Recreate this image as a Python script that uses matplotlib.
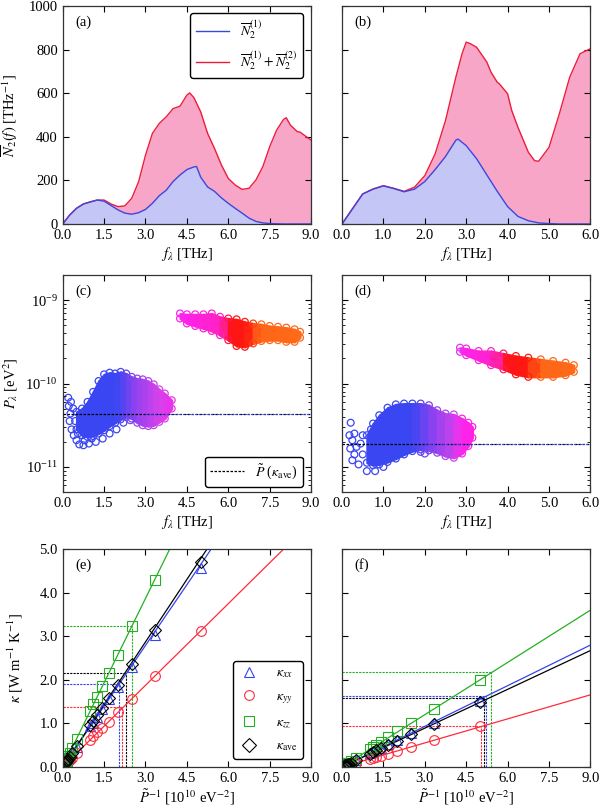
import numpy as np
import matplotlib
matplotlib.use("Agg")
import matplotlib.pyplot as plt
from matplotlib.colors import LinearSegmentedColormap
from matplotlib.lines import Line2D
from matplotlib.ticker import LogLocator, NullFormatter

plt.rcParams["font.family"] = ["Liberation Serif", "DejaVu Serif"]
plt.rcParams["mathtext.fontset"] = "stix"
plt.rcParams["font.size"] = 10.5

# ---- (a) DOS-like curves, f in THz ----
fa_red = [0.0, 0.25, 0.5, 0.75, 1.0, 1.25, 1.5, 1.75, 2.0, 2.25, 2.5, 2.75, 3.0, 3.25, 3.5, 3.75,
          4.0, 4.25, 4.5, 4.6, 4.75, 5.0, 5.25, 5.5, 5.75, 6.0, 6.25, 6.5, 6.75, 7.0, 7.25, 7.5,
          7.75, 8.0, 8.1, 8.25, 8.5, 8.6, 8.75, 9.0]
na_red = [0, 41, 72, 92, 102, 110, 110, 92, 80, 83, 118, 194, 316, 416, 462, 492,
          530, 541, 592, 602, 581, 515, 416, 347, 271, 209, 179, 159, 164, 202, 263, 355,
          431, 480, 488, 454, 424, 422, 408, 385]
fa_blue = [0.0, 0.25, 0.5, 0.75, 1.0, 1.25, 1.5, 1.75, 2.0, 2.25, 2.5, 2.75, 3.0, 3.25, 3.5, 3.75,
           4.0, 4.25, 4.5, 4.75, 4.85, 5.0, 5.25, 5.5, 5.75, 6.0, 6.25, 6.5, 6.75, 7.0, 7.25, 7.5,
           8.0, 9.0]
na_blue = [0, 41, 72, 92, 101, 110, 105, 85, 65, 50, 45, 52, 67, 95, 130, 155,
           195, 225, 250, 262, 264, 215, 170, 150, 120, 95, 72, 50, 27, 12, 5, 2,
           0, 0]

# ---- (b) ----
fb_red = [0.0, 0.25, 0.5, 0.75, 1.0, 1.25, 1.5, 1.75, 2.0, 2.25, 2.5, 2.75, 2.9, 3.0, 3.1, 3.25,
          3.5, 3.6, 3.75, 3.8, 4.0, 4.1, 4.25, 4.5, 4.65, 4.75, 5.0, 5.25, 5.5, 5.75, 6.0]
nb_red = [0, 69, 138, 161, 176, 164, 150, 169, 222, 322, 475, 674, 782, 835, 828, 812,
          743, 697, 651, 644, 598, 521, 444, 330, 291, 288, 352, 506, 674, 782, 805]
fb_blue = [0.0, 0.25, 0.5, 0.75, 1.0, 1.25, 1.5, 1.75, 2.0, 2.25, 2.5, 2.75, 2.8, 3.0, 3.25,
           3.5, 3.75, 4.0, 4.25, 4.5, 4.75, 5.0, 5.25, 6.0]
nb_blue = [0, 69, 138, 160, 175, 163, 148, 160, 195, 250, 310, 385, 390, 360, 300,
           225, 150, 80, 35, 15, 5, 2, 0, 0]

# ---- (c) P_lambda clouds: f, log10 P lower / upper envelope ----
c_low_f = [0.5, 0.7, 0.9, 1.1, 1.3, 1.5, 1.7, 1.9, 2.1, 2.3, 2.5, 2.7, 2.9, 3.1, 3.3, 3.5, 3.7, 3.95]
c_low_lo = [-10.55, -10.62, -10.64, -10.63, -10.60, -10.56, -10.51, -10.47, -10.43, -10.40, -10.42,
            -10.47, -10.50, -10.51, -10.50, -10.46, -10.42, -10.30]
c_low_hi = [-10.34, -10.30, -10.22, -10.10, -9.97, -9.89, -9.87, -9.88, -9.86, -9.88, -9.92,
            -9.94, -9.95, -9.97, -10.01, -10.07, -10.12, -10.20]
c_high_f = [4.25, 4.5, 4.8, 5.1, 5.4, 5.7, 6.0, 6.3, 6.6, 6.9, 7.2, 7.5, 7.8, 8.1, 8.4, 8.6]
c_high_lo = [-9.22, -9.28, -9.31, -9.34, -9.37, -9.42, -9.48, -9.55, -9.56, -9.52, -9.49, -9.48,
             -9.48, -9.50, -9.50, -9.45]
c_high_hi = [-9.16, -9.17, -9.17, -9.17, -9.16, -9.20, -9.22, -9.23, -9.26, -9.28, -9.29, -9.31,
             -9.32, -9.33, -9.35, -9.38]
c_out_f = [0.2, 0.22, 0.28, 0.25, 0.32, 0.4, 0.5, 0.6, 0.75, 0.95, 1.2, 1.45, 1.7, 1.95, 2.2, 2.45,
           0.38, 0.45, 0.3, 0.55, 0.8, 1.05]
c_out_p = [-10.17, -10.27, -10.36, -10.45, -10.55, -10.62, -10.68, -10.73, -10.74, -10.72, -10.70,
           -10.66, -10.60, -10.55, -10.47, -10.44, -10.30, -10.45, -10.22, -10.60, -10.68, -10.66]
c_ptilde = 4.3e-11

# ---- (d) ----
d_low_f = [0.6, 0.75, 0.9, 1.1, 1.3, 1.5, 1.7, 1.9, 2.1, 2.3, 2.5, 2.7, 2.9, 3.05, 3.15]
d_low_lo = [-10.95, -10.98, -10.97, -10.94, -10.90, -10.85, -10.81, -10.79, -10.80, -10.83,
            -10.87, -10.89, -10.84, -10.75, -10.65]
d_low_hi = [-10.62, -10.48, -10.38, -10.29, -10.25, -10.24, -10.24, -10.24, -10.26, -10.32,
            -10.36, -10.37, -10.42, -10.47, -10.52]
d_high_f = [2.85, 3.0, 3.3, 3.6, 3.9, 4.2, 4.5, 4.8, 5.1, 5.4, 5.6]
d_high_lo = [-9.62, -9.66, -9.72, -9.78, -9.83, -9.89, -9.92, -9.92, -9.92, -9.90, -9.86]
d_high_hi = [-9.57, -9.58, -9.61, -9.61, -9.64, -9.67, -9.69, -9.71, -9.73, -9.75, -9.78]
d_out_f = [0.21, 0.18, 0.25, 0.3, 0.2, 0.3, 0.25, 0.4, 0.45, 0.5, 0.6, 0.8, 1.0, 1.9, 2.0, 2.1,
           0.35, 0.5, 0.7]
d_out_p = [-10.47, -10.62, -10.68, -10.60, -10.78, -10.85, -10.92, -10.97, -10.72, -10.62, -11.05,
           -11.05, -11.00, -10.82, -10.84, -10.80, -10.76, -10.85, -10.55]
d_ptilde = 1.9e-11

# ---- (e), (f) kappa vs 1/P ----
pinv = [5.0, 3.333, 2.5, 2.0, 1.667, 1.429, 1.25, 1.111, 1.0, 0.5, 0.333, 0.25, 0.2, 0.167,
        0.143, 0.125, 0.111, 0.1]
e_kxx = [4.57, 3.03, 2.29, 1.83, 1.55, 1.32, 1.15, 1.02, 0.93, 0.46, 0.31, 0.23, 0.18, 0.15,
         0.13, 0.115, 0.10, 0.09]
e_kyy = [3.12, 2.09, 1.56, 1.26, 1.04, 0.89, 0.80, 0.72, 0.63, 0.31, 0.21, 0.16, 0.13, 0.11,
         0.09, 0.08, 0.07, 0.06]
e_kzz = [6.45, 4.29, 3.23, 2.58, 2.16, 1.86, 1.61, 1.44, 1.29, 0.65, 0.43, 0.32, 0.26, 0.21,
         0.18, 0.16, 0.14, 0.13]
e_kave = [4.71, 3.14, 2.37, 1.89, 1.58, 1.36, 1.19, 1.06, 0.96, 0.48, 0.32, 0.24, 0.19, 0.16,
          0.14, 0.12, 0.11, 0.10]
e_slope = [0.93, 0.625, 1.29, 0.957]
e_guide_x = [2.05, 2.16, 2.52, 2.29]
e_guide_y = [1.90, 1.37, 3.23, 2.16]

f_kxx = [1.52, 1.01, 0.77, 0.62, 0.52, 0.44, 0.39, 0.35, 0.31, 0.16, 0.10, 0.08, 0.06, 0.05,
         0.045, 0.04, 0.035, 0.03]
f_kyy = [0.93, 0.62, 0.45, 0.375, 0.30, 0.26, 0.23, 0.21, 0.19, 0.09, 0.06, 0.045, 0.037, 0.03,
         0.026, 0.023, 0.02, 0.018]
f_kzz = [2.00, 1.33, 1.01, 0.82, 0.68, 0.58, 0.51, 0.45, 0.41, 0.20, 0.14, 0.10, 0.08, 0.067,
         0.057, 0.05, 0.045, 0.04]
f_kave = [1.49, 0.99, 0.75, 0.60, 0.50, 0.43, 0.38, 0.34, 0.30, 0.15, 0.10, 0.075, 0.06, 0.05,
          0.043, 0.038, 0.034, 0.03]
f_slope = [0.311, 0.184, 0.40, 0.297]
f_guide_x = [5.22, 5.04, 5.39, 5.15]
f_guide_y = [1.62, 0.95, 2.17, 1.58]

k_labels = [r"$\kappa_{xx}$", r"$\kappa_{yy}$", r"$\kappa_{zz}$", r"$\kappa_{\rm ave}$"]
k_colors = ["#3344ee", "#ff2a3a", "#22b022", "black"]
k_markers = ["^", "o", "s", "D"]

RED = "#ee1c3c"
BLUE = "#3a48e0"
cloud_colors = ["#3a46f2", "#3a46f2", "#8c42f0", "#d442ea", "#ff22f0", "#ff22c0",
                "#ff1414", "#ff1a10", "#ff6618", "#ff6a18"]
cloud_cmap = LinearSegmentedColormap.from_list("cloud", cloud_colors)


def style_axes(ax):
    ax.tick_params(direction="in", which="both", top=True, right=True, labelsize=10.5)
    ax.tick_params(which="major", length=4, width=0.8)
    ax.tick_params(which="minor", length=2, width=0.6)
    for sp in ax.spines.values():
        sp.set_color("#333333")
        sp.set_linewidth(0.9)


def plot_dos(ax, fr, nr, fbl, nbl, xmax, xticks, label):
    ax.fill_between(fr, 0, nr, color="#f7a6c8", lw=0)
    ax.fill_between(fbl, 0, nbl, color="#c4c6f6", lw=0)
    ax.plot(fr, nr, color=RED, lw=1.0)
    ax.plot(fbl, nbl, color=BLUE, lw=1.0)
    ax.set_xlim(0, xmax)
    ax.set_ylim(0, 1000)
    ax.set_xticks(xticks)
    ax.set_xticklabels([f"{t:.1f}" for t in xticks])
    ax.set_yticks([0, 200, 400, 600, 800, 1000])
    ax.set_xlabel(r"$f_\lambda$ [THz]", labelpad=2)
    ax.text(0.05, 0.91, label, transform=ax.transAxes, fontsize=10.5)
    style_axes(ax)


def plot_cloud(ax, fs, lo, hi, nodes):
    t = np.interp(fs, nodes, np.linspace(0, 1, len(nodes)))
    for i in range(len(fs) - 1):
        c = cloud_cmap(0.5 * (t[i] + t[i + 1]))
        ax.fill_between(fs[i:i + 2], 10 ** np.array(lo[i:i + 2]), 10 ** np.array(hi[i:i + 2]),
                        color=c, lw=1.5, edgecolor=c)
    cols = cloud_cmap(t)
    ax.scatter(fs, 10 ** np.array(lo), s=24, facecolors="none", edgecolors=cols, lw=0.9)
    ax.scatter(fs, 10 ** np.array(hi), s=24, facecolors="none", edgecolors=cols, lw=0.9)


def plot_outliers(ax, fs, ps, nodes):
    t = np.interp(fs, nodes, np.linspace(0, 1, len(nodes)))
    ax.scatter(fs, 10 ** np.array(ps), s=24, facecolors="none", edgecolors=cloud_cmap(t), lw=0.9)


def plot_p(ax, low, high, out, ptilde, xmax, xticks, nodes, label):
    plot_cloud(ax, *low, nodes)
    plot_cloud(ax, *high, nodes)
    plot_outliers(ax, *out, nodes)
    ax.axhline(ptilde, color="black", ls=(0, (2, 1.2)), lw=0.9, zorder=5)
    ax.plot([xmax * 0.33, xmax], [ptilde, ptilde], color="#3344ee", ls=(0, (2, 1.2)), lw=0.7, zorder=5)
    ax.set_yscale("log")
    ax.set_xlim(0, xmax)
    ax.set_ylim(5e-12, 2e-9)
    ax.set_xticks(xticks)
    ax.set_xticklabels([f"{t:.1f}" for t in xticks])
    ax.yaxis.set_major_locator(LogLocator(base=10, numticks=10))
    ax.yaxis.set_minor_locator(LogLocator(base=10, subs=np.arange(2, 10), numticks=10))
    ax.yaxis.set_minor_formatter(NullFormatter())
    ax.set_xlabel(r"$f_\lambda$ [THz]", labelpad=2)
    ax.text(0.05, 0.91, label, transform=ax.transAxes, fontsize=10.5)
    style_axes(ax)


def plot_kappa(ax, data, slopes, gx, gy, label):
    xs = np.array([0, 9.0])
    for k in range(4):
        ax.plot([0, gx[k]], [gy[k], gy[k]], color=k_colors[k], ls=(0, (2, 1)), lw=0.8)
        ax.plot([gx[k], gx[k]], [0, gy[k]], color=k_colors[k], ls=(0, (2, 1)), lw=0.8)
    for k in range(4):
        ax.plot(xs, slopes[k] * xs, color=k_colors[k], lw=0.9)
    for k in range(4):
        ax.plot(pinv, data[k], ls="none", marker=k_markers[k], ms=7 if k != 3 else 6.5,
                mfc="none", mec=k_colors[k], mew=0.8)
    ax.set_xlim(0, 9)
    ax.set_ylim(0, 5)
    xt = [0, 1.5, 3.0, 4.5, 6.0, 7.5, 9.0]
    ax.set_xticks(xt)
    ax.set_xticklabels([f"{t:.1f}" for t in xt])
    ax.set_yticks([0, 1, 2, 3, 4, 5])
    ax.set_xlabel(r"$\tilde{P}^{-1}$ [10$^{10}$ eV$^{-2}$]", labelpad=2)
    ax.text(0.05, 0.91, label, transform=ax.transAxes, fontsize=10.5)
    style_axes(ax)


fig = plt.figure(figsize=(6.0, 8.11), dpi=100)
L1, L2, W = 0.1045, 0.57, 0.414
H = 0.2685
ax_a = fig.add_axes([L1, 0.7238, W, H])
ax_b = fig.add_axes([L2, 0.7238, W, H])
ax_c = fig.add_axes([L1, 0.3933, W, 0.2676])
ax_d = fig.add_axes([L2, 0.3933, W, 0.2676])
ax_e = fig.add_axes([L1, 0.0543, W, H])
ax_f = fig.add_axes([L2, 0.0543, W, H])

plot_dos(ax_a, fa_red, na_red, fa_blue, na_blue, 9, [0, 1.5, 3.0, 4.5, 6.0, 7.5, 9.0], "(a)")
plot_dos(ax_b, fb_red, nb_red, fb_blue, nb_blue, 6, [0, 1, 2, 3, 4, 5, 6], "(b)")
ax_a.set_ylabel(r"$\overline{N}_2(f)$ [THz$^{-1}$]")
ax_a.yaxis.set_label_coords(-0.17, 0.5)
ax_b.set_yticklabels([])
ax_a.legend(handles=[Line2D([], [], color=BLUE, lw=1.0), Line2D([], [], color=RED, lw=1.0)],
            labels=[r"$\overline{N}_2^{(1)}$", r"$\overline{N}_2^{(1)}+\overline{N}_2^{(2)}$"],
            loc="upper right", bbox_to_anchor=(0.968, 0.968), borderaxespad=0, fontsize=10,
            edgecolor="black", fancybox=True, framealpha=1, handlelength=2.4, labelspacing=0.6,
            handletextpad=0.8)

c_nodes = [0, 2.0, 2.6, 3.5, 4.3, 5.8, 6.1, 6.8, 7.0, 9.0]
d_nodes = [0, 1.7, 2.2, 2.8, 2.9, 3.8, 4.0, 4.5, 4.7, 6.0]
plot_p(ax_c, (c_low_f, c_low_lo, c_low_hi), (c_high_f, c_high_lo, c_high_hi), (c_out_f, c_out_p),
       c_ptilde, 9, [0, 1.5, 3.0, 4.5, 6.0, 7.5, 9.0], c_nodes, "(c)")
plot_p(ax_d, (d_low_f, d_low_lo, d_low_hi), (d_high_f, d_high_lo, d_high_hi), (d_out_f, d_out_p),
       d_ptilde, 6, [0, 1, 2, 3, 4, 5, 6], d_nodes, "(d)")
ax_c.set_ylabel(r"$P_\lambda$ [eV$^2$]")
ax_c.yaxis.set_label_coords(-0.17, 0.5)
ax_d.tick_params(labelleft=False)
ax_c.legend(handles=[Line2D([], [], color="black", ls=(0, (2, 1.2)), lw=0.9)],
            labels=[r"$\tilde{P}$ ($\kappa_{\rm ave}$)"], loc="lower right",
            bbox_to_anchor=(0.968, 0.025), borderaxespad=0, fontsize=10, edgecolor="black",
            framealpha=1, handlelength=2.4)

plot_kappa(ax_e, [e_kxx, e_kyy, e_kzz, e_kave], e_slope, e_guide_x, e_guide_y, "(e)")
plot_kappa(ax_f, [f_kxx, f_kyy, f_kzz, f_kave], f_slope, f_guide_x, f_guide_y, "(f)")
ax_e.set_yticklabels([f"{v:.1f}" for v in [0, 1, 2, 3, 4, 5]])
ax_e.set_ylabel(r"$\kappa$ [W m$^{-1}$ K$^{-1}$]")
ax_e.yaxis.set_label_coords(-0.15, 0.5)
ax_f.tick_params(labelleft=False)
handles = [Line2D([], [], ls="none", marker=m, ms=7, mfc="none", mec=c, mew=0.8)
           for m, c in zip(k_markers, k_colors)]
ax_e.legend(handles=handles, labels=k_labels, loc="lower right", bbox_to_anchor=(0.968, 0.037),
            borderaxespad=0, fontsize=10, edgecolor="black", framealpha=1, handlelength=1.5,
            handletextpad=1.2, labelspacing=0.7)

fig.savefig("out.png", dpi=100)
